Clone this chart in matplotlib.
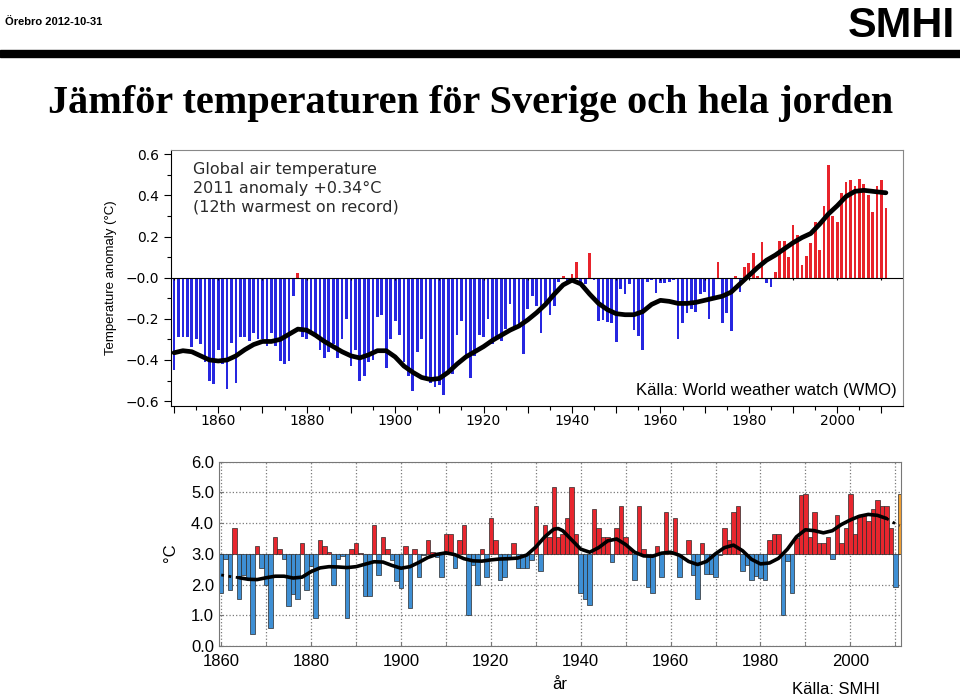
import numpy as np
import matplotlib
matplotlib.use('Agg')
import matplotlib.pyplot as plt
from matplotlib.patches import Rectangle
from matplotlib.ticker import MultipleLocator, FixedLocator

# global anomaly (degC), 1850-2011
glob_years = np.arange(1850, 2012)
glob_anom = [
    -0.447, -0.29, -0.29, -0.29, -0.337, -0.30, -0.32, -0.41, -0.50, -0.516,   # 1850
    -0.35, -0.42, -0.54, -0.318, -0.51, -0.29, -0.29, -0.31, -0.27, -0.30,     # 1860
    -0.30, -0.33, -0.27, -0.33, -0.406, -0.42, -0.406, -0.09, 0.024, -0.29,    # 1870
    -0.30, -0.26, -0.29, -0.35, -0.39, -0.36, -0.32, -0.39, -0.30, -0.20,      # 1880
    -0.43, -0.35, -0.50, -0.48, -0.41, -0.40, -0.19, -0.18, -0.44, -0.30,      # 1890
    -0.21, -0.28, -0.41, -0.48, -0.55, -0.36, -0.30, -0.49, -0.51, -0.53,      # 1900
    -0.52, -0.57, -0.46, -0.47, -0.28, -0.21, -0.39, -0.49, -0.38, -0.28,      # 1910
    -0.29, -0.20, -0.32, -0.30, -0.31, -0.25, -0.13, -0.25, -0.24, -0.37,      # 1920
    -0.15, -0.09, -0.14, -0.27, -0.14, -0.18, -0.14, -0.02, 0.01, -0.02,       # 1930
    0.016, 0.076, -0.02, -0.03, 0.12, -0.01, -0.21, -0.205, -0.213, -0.22,     # 1940
    -0.313, -0.055, -0.08, -0.03, -0.256, -0.285, -0.353, -0.02, -0.01, -0.076,  # 1950
    -0.027, -0.024, -0.02, -0.01, -0.30, -0.22, -0.17, -0.15, -0.165, -0.08,   # 1960
    -0.07, -0.20, -0.11, 0.077, -0.22, -0.17, -0.26, 0.01, -0.07, 0.05,        # 1970
    0.07, 0.118, 0.008, 0.174, -0.027, -0.043, 0.03, 0.177, 0.177, 0.10,       # 1980
    0.255, 0.21, 0.06, 0.106, 0.17, 0.27, 0.137, 0.35, 0.548, 0.298,           # 1990
    0.27, 0.41, 0.465, 0.476, 0.448, 0.48, 0.456, 0.40, 0.32, 0.444,           # 2000
    0.476, 0.34,                                                              # 2010
]
glob_smooth_years = [1850, 1852, 1854, 1856, 1858, 1860, 1862, 1864, 1866, 1868,
                     1870, 1872, 1874, 1876, 1878, 1880, 1882, 1884, 1886, 1888,
                     1890, 1892, 1894, 1896, 1898, 1900, 1902, 1904, 1906, 1908,
                     1910, 1912, 1914, 1916, 1918, 1920, 1922, 1924, 1926, 1928,
                     1930, 1932, 1934, 1936, 1938, 1940, 1942, 1944, 1946, 1948,
                     1950, 1952, 1954, 1956, 1958, 1960, 1962, 1964, 1966, 1968,
                     1970, 1972, 1974, 1976, 1978, 1980, 1982, 1984, 1986, 1988,
                     1990, 1992, 1994, 1996, 1998, 2000, 2002, 2004, 2006, 2008,
                     2010, 2011]
glob_smooth = [-0.365, -0.355, -0.36, -0.38, -0.40, -0.405, -0.40, -0.38, -0.35, -0.325,
               -0.31, -0.31, -0.30, -0.275, -0.25, -0.255, -0.28, -0.31, -0.335, -0.36,
               -0.38, -0.39, -0.375, -0.355, -0.355, -0.385, -0.43, -0.46, -0.485, -0.495,
               -0.49, -0.46, -0.42, -0.385, -0.36, -0.335, -0.305, -0.28, -0.255, -0.235,
               -0.205, -0.17, -0.13, -0.08, -0.035, -0.012, -0.03, -0.08, -0.125, -0.155,
               -0.175, -0.18, -0.18, -0.165, -0.13, -0.11, -0.115, -0.125, -0.125, -0.12,
               -0.11, -0.10, -0.09, -0.07, -0.03, 0.01, 0.05, 0.085, 0.11, 0.14,
               0.17, 0.195, 0.215, 0.26, 0.31, 0.35, 0.395, 0.42, 0.425, 0.42,
               0.415, 0.413]

# Sweden mean temperature (degC), 1860-2011
swe_years = np.arange(1860, 2012)
swe_temp = [
    1.71, 2.84, 1.81, 3.84, 1.52, 2.30, 2.20, 0.40, 3.24, 2.53,   # 1860
    2.00, 0.60, 3.53, 3.15, 2.83, 1.30, 1.70, 1.52, 3.34, 1.82,   # 1870
    2.60, 0.91, 3.45, 3.24, 3.05, 2.00, 2.84, 2.92, 0.91, 3.15,   # 1880
    3.35, 3.04, 1.61, 1.61, 3.95, 2.32, 3.53, 3.15, 2.80, 2.13,   # 1890
    1.90, 3.24, 1.22, 3.15, 2.23, 2.95, 3.44, 3.05, 2.90, 2.23,   # 1900
    3.63, 3.63, 2.53, 3.44, 3.94, 1.00, 2.65, 2.00, 3.15, 2.23,   # 1910
    4.16, 3.44, 2.14, 2.23, 2.90, 3.34, 2.53, 2.53, 2.53, 2.80,   # 1920
    4.55, 2.43, 3.94, 3.54, 5.17, 3.54, 3.63, 4.16, 5.17, 3.63,   # 1930
    1.71, 1.52, 1.32, 4.44, 3.84, 3.54, 3.54, 2.74, 3.84, 4.55,   # 1940
    3.54, 3.12, 2.14, 4.55, 3.15, 1.92, 1.71, 3.24, 2.23, 4.36,   # 1950
    3.04, 4.16, 2.23, 2.98, 3.44, 2.32, 1.52, 3.35, 2.33, 2.33,   # 1960
    2.23, 2.97, 3.84, 3.44, 4.35, 4.55, 2.43, 2.65, 2.14, 2.27,   # 1970
    2.20, 2.14, 3.44, 3.64, 3.64, 1.00, 2.75, 1.71, 3.50, 4.90,   # 1980
    4.95, 3.54, 4.36, 3.34, 3.34, 3.54, 2.83, 4.26, 3.34, 3.84,   # 1990
    4.95, 3.63, 4.26, 4.26, 4.05, 4.46, 4.75, 4.55, 4.55, 3.84,   # 2000
    1.92, 4.95,                                                 # 2010
]
swe_smooth_years = [1860, 1862, 1864, 1866, 1868, 1870, 1872, 1874, 1876, 1878,
                    1880, 1882, 1884, 1886, 1888, 1890, 1892, 1894, 1896, 1898,
                    1900, 1902, 1904, 1906, 1908, 1910, 1912, 1914, 1916, 1918,
                    1920, 1922, 1924, 1926, 1928, 1930, 1932, 1934, 1935, 1936,
                    1938, 1940, 1942, 1944, 1946, 1948, 1950, 1952, 1954, 1956,
                    1958, 1960, 1962, 1964, 1966, 1968, 1970, 1972, 1974, 1976,
                    1978, 1980, 1982, 1984, 1986, 1988, 1990, 1992, 1994, 1996,
                    1998, 2000, 2002, 2004, 2006, 2008, 2010, 2011]
swe_smooth = [2.31, 2.26, 2.22, 2.17, 2.16, 2.22, 2.27, 2.27, 2.21, 2.24,
              2.42, 2.54, 2.58, 2.57, 2.55, 2.58, 2.66, 2.74, 2.73, 2.62,
              2.53, 2.58, 2.72, 2.88, 2.98, 3.03, 2.97, 2.84, 2.77, 2.76,
              2.80, 2.83, 2.84, 2.86, 2.96, 3.22, 3.55, 3.80, 3.82, 3.75,
              3.45, 3.15, 3.05, 3.20, 3.42, 3.48, 3.30, 3.05, 2.93, 2.92,
              3.02, 3.05, 2.95, 2.75, 2.65, 2.75, 3.00, 3.20, 3.28, 3.10,
              2.82, 2.67, 2.70, 2.85, 3.15, 3.55, 3.78, 3.75, 3.68, 3.75,
              3.95, 4.10, 4.22, 4.28, 4.25, 4.15, 3.98, 3.92]

fig = plt.figure(figsize=(9.6, 6.98), dpi=100)

# header
fig.text(0.005, 0.968, 'Örebro 2012-10-31', fontsize=8, fontweight='bold',
         family='Liberation Sans', va='center', ha='left')
fig.text(0.995, 0.963, 'SMHI', fontsize=31, fontweight='bold',
         family='Liberation Sans', va='center', ha='right')
fig.patches.append(Rectangle((0, 0.918), 1, 0.011, transform=fig.transFigure,
                             color='black', zorder=5))
fig.text(0.49, 0.852, 'Jämför temperaturen för Sverige och hela jorden',
         family='Liberation Serif', fontweight='bold', fontsize=29,
         ha='center', va='center')

# ---- global chart
ax1 = fig.add_axes([0.1781, 0.4183, 0.7622, 0.3668])
ga = np.array(glob_anom)
gcol = np.where(ga >= 0, '#e8232b', '#2626e0')
ax1.bar(glob_years, ga, width=0.62, color=gcol, zorder=2)
ax1.axhline(0, color='black', lw=0.8, zorder=3)
ax1.vlines(np.arange(1850, 2012, 10), -0.012, 0, color='black', lw=0.8, zorder=3)
ax1.plot(glob_smooth_years, glob_smooth, color='black', lw=3.4,
         solid_capstyle='round', solid_joinstyle='round', zorder=4)
ax1.set_xlim(1849.3, 2014.8)
ax1.set_ylim(-0.624, 0.621)
ax1.set_yticks([-0.6, -0.4, -0.2, 0.0, 0.2, 0.4, 0.6])
ax1.set_yticklabels(['\u22120.6', '\u22120.4', '\u22120.2', '\u22120.0', '0.2', '0.4', '0.6'])
ax1.yaxis.set_minor_locator(MultipleLocator(0.1))
ax1.set_xticks(np.arange(1850, 2011, 10))
ax1.set_xticklabels(['' if y % 20 else str(y) for y in range(1850, 2011, 10)])
ax1.xaxis.set_minor_locator(MultipleLocator(5))
ax1.tick_params(which='both', direction='out', labelsize=10, width=0.8)
ax1.tick_params(which='major', length=5)
ax1.tick_params(which='minor', length=3)
ax1.tick_params(axis='x', pad=1)
for lab in ax1.get_xticklabels() + ax1.get_yticklabels():
    lab.set_family('DejaVu Sans')
for s in ['top', 'right']:
    ax1.spines[s].set_color('#888888')
ax1.set_ylabel('Temperature anomaly (\u00b0C)', family='Liberation Sans',
               fontsize=9.5, labelpad=6)
ax1.text(0.03, 0.952, 'Global air temperature\n2011 anomaly +0.34\u00b0C\n(12th warmest on record)',
         transform=ax1.transAxes, ha='left', va='top', fontsize=11.5,
         family='DejaVu Sans', color='#2a2a2a', linespacing=1.3)
ax1.text(0.992, 0.062, 'Källa: World weather watch (WMO)', transform=ax1.transAxes,
         ha='right', va='center', fontsize=12, family='Liberation Sans')

# ---- Sweden chart
base = 3.0
ax2 = fig.add_axes([0.2281, 0.0745, 0.7101, 0.2643])
sv = np.array(swe_temp)
scol = ['#e8262e' if v >= base else '#3e8fd4' for v in sv]
scol[-1] = '#f5a030'
ax2.bar(swe_years, sv - base, bottom=base, width=1.0, color=scol,
        edgecolor='#2a2a2a', linewidth=0.5, zorder=2)
sy = np.array(swe_smooth_years)
ss = np.array(swe_smooth)
main = (sy >= 1864) & (sy <= 2008)
ax2.plot(sy[main], ss[main], color='black', lw=2.6, zorder=4,
         solid_capstyle='round')
ax2.plot(sy[sy <= 1864], ss[sy <= 1864], color='black', lw=2, ls=':', zorder=4)
ax2.plot(sy[sy >= 2008], ss[sy >= 2008], color='black', lw=2, ls=':', zorder=4)
ax2.set_xlim(1859.5, 2011.2)
ax2.set_ylim(0, 6)
ax2.set_yticks(np.arange(0, 6.1, 1.0))
ax2.set_yticklabels(['%.1f' % v for v in np.arange(0, 6.1, 1.0)])
ax2.set_xticks(np.arange(1860, 2011, 20))
ax2.xaxis.set_minor_locator(FixedLocator(np.arange(1870, 2011, 20)))
ax2.grid(True, which='both', ls=':', color='#7a7a7a', lw=0.9)
ax2.set_axisbelow(True)
ax2.tick_params(which='both', direction='in', length=3, labelsize=12, color='#777777')
ax2.tick_params(axis='x', pad=6)
for lab in ax2.get_xticklabels() + ax2.get_yticklabels():
    lab.set_family('Liberation Sans')
for s in ax2.spines.values():
    s.set_color('#777777')
fig.text(0.178, 0.208, '\u00b0C', rotation=90, fontsize=12, family='Liberation Sans',
         ha='center', va='center')
fig.text(0.583, 0.02, 'år', fontsize=12, family='Liberation Sans',
         ha='center', va='center')
fig.text(0.871, 0.0115, 'Källa: SMHI', fontsize=12, family='Liberation Sans',
         ha='center', va='center')

fig.savefig('out.png', dpi=100)
